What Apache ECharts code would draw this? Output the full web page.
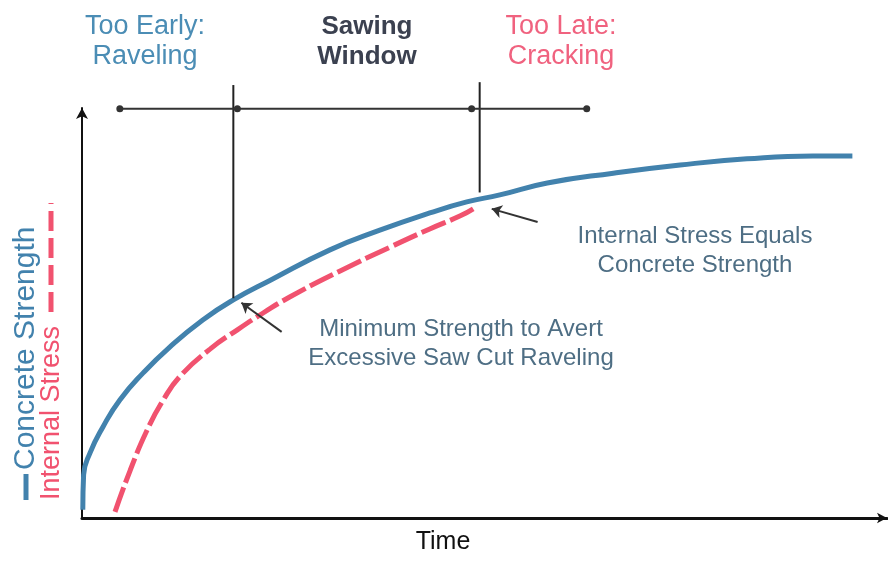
<!DOCTYPE html>
<html>
<head>
<meta charset="utf-8">
<script src="https://cdn.jsdelivr.net/npm/echarts@6/dist/echarts.min.js"></script>
<style>
  html, body { margin: 0; padding: 0; background: #fff; }
  #chart { width: 888px; height: 561px; }
</style>
</head>
<body>
<div id="chart"></div>
<script>
// curves (time 0-100, value 0-100)
var strength = [[0.1, 2], [0.2, 10.5], [1.0, 15.9], [2.6, 22.2], [4.7, 28.8], [7.6, 35.4],
  [10.9, 41.7], [15.0, 48.3], [18.8, 53.2], [23.4, 58.0], [30.8, 65.4], [37.0, 70.2],
  [43.2, 74.4], [47.8, 77.1], [51.9, 78.8], [57.8, 81.7], [66.0, 84.1], [74.3, 86.1],
  [82.6, 87.6], [90.8, 88.3], [95.7, 88.3]];
var stress = [[4.1, 1.5], [6.0, 11.7], [8.1, 21.5], [10.1, 28.8], [12.2, 34.6], [15.9, 41.2],
  [19.3, 45.9], [22.5, 50.0], [25.8, 53.9], [32.0, 60.2], [38.3, 66.1], [43.2, 70.5],
  [47.0, 73.7], [48.6, 75.4]];

// sawing window markers
var windowStart = [[18.8, 105.6], [18.8, 53.6]];
var windowEnd = [[49.4, 106.3], [49.4, 79.4]];
var timeline = [[4.7, 99.8], [19.3, 99.8], [48.4, 99.8], [62.7, 99.8]];

// pointer arrows: [tail, head]
var arrows = [
  [[24.8, 45.4], [19.8, 52.5]],
  [[56.6, 72.2], [50.9, 75.4]]
];

var blue = '#4282ad';
var pink = '#f1526f';
var inkBlue = '#4e6e84';

var chart = echarts.init(document.getElementById('chart'));

chart.setOption({
  animation: false,
  grid: { left: 82, right: 1, top: 108, bottom: 43 },
  xAxis: {
    type: 'value', min: 0, max: 100,
    axisLine: { show: true, symbol: ['none', 'arrow'], symbolSize: [8, 10],
      lineStyle: { color: '#111', width: 3 } },
    axisTick: { show: false }, axisLabel: { show: false }, splitLine: { show: false }
  },
  yAxis: {
    type: 'value', min: 0, max: 100,
    axisLine: { show: true, symbol: ['none', 'arrow'], symbolSize: [9, 11],
      lineStyle: { color: '#111', width: 2 } },
    axisTick: { show: false }, axisLabel: { show: false }, splitLine: { show: false }
  },
  series: [
    {
      name: 'Internal Stress', type: 'line', data: stress, smooth: 0.5,
      showSymbol: false, z: 2,
      lineStyle: { color: pink, width: 5, type: [26, 5] }
    },
    {
      name: 'Concrete Strength', type: 'line', data: strength, smooth: 0.5,
      showSymbol: false, z: 3,
      lineStyle: { color: blue, width: 5 }
    },
    {
      type: 'line', data: windowStart, showSymbol: false, clip: false, z: 4,
      lineStyle: { color: '#222', width: 2 }
    },
    {
      type: 'line', data: windowEnd, showSymbol: false, clip: false, z: 4,
      lineStyle: { color: '#222', width: 2 }
    },
    {
      type: 'line', data: timeline, symbol: 'circle', symbolSize: 7, clip: false, z: 4,
      itemStyle: { color: '#333' },
      lineStyle: { color: '#333', width: 2 }
    },
    {
      type: 'lines', coordinateSystem: 'cartesian2d', z: 5,
      symbol: ['none', 'arrow'], symbolSize: 10,
      lineStyle: { color: '#333', width: 2, opacity: 1 },
      data: arrows.map(function (a) { return { coords: a }; })
    }
  ],
  graphic: [
    { type: 'text', x: 145, y: 12, style: { text: 'Too Early:\nRaveling', fill: '#4b8db5',
      font: '27px "Liberation Sans", Arial', align: 'center', lineHeight: 30 } },
    { type: 'text', x: 367, y: 12, style: { text: 'Sawing\nWindow', fill: '#3b4150',
      font: 'bold 26px "Liberation Sans", Arial', align: 'center', lineHeight: 30 } },
    { type: 'text', x: 561, y: 12, style: { text: 'Too Late:\nCracking', fill: '#f0627f',
      font: '27px "Liberation Sans", Arial', align: 'center', lineHeight: 30 } },
    { type: 'text', x: 695, y: 222, style: { text: 'Internal Stress Equals\nConcrete Strength', fill: inkBlue,
      font: '24px "Liberation Sans", Arial', align: 'center', lineHeight: 29 } },
    { type: 'text', x: 461, y: 315, style: { text: 'Minimum Strength to Avert\nExcessive Saw Cut Raveling', fill: inkBlue,
      font: '24px "Liberation Sans", Arial', align: 'center', lineHeight: 29 } },
    { type: 'text', x: 443, y: 530, style: { text: 'Time', fill: '#111',
      font: '25px "Liberation Sans", Arial', align: 'center' } },
    { type: 'text', x: 11, y: 470, rotation: Math.PI / 2, style: { text: 'Concrete Strength', fill: blue,
      font: '30px "Liberation Sans", Arial', verticalAlign: 'top' } },
    { type: 'text', x: 38, y: 500, rotation: Math.PI / 2, style: { text: 'Internal Stress', fill: pink,
      font: '27px "Liberation Sans", Arial', verticalAlign: 'top' } },
    { type: 'line', shape: { x1: 26, y1: 474, x2: 26, y2: 500 }, style: { stroke: blue, lineWidth: 5 } },
    { type: 'line', shape: { x1: 51, y1: 312, x2: 51, y2: 203 }, style: { stroke: pink, lineWidth: 5, lineDash: [20, 7] } }
  ]
});
</script>
</body>
</html>
